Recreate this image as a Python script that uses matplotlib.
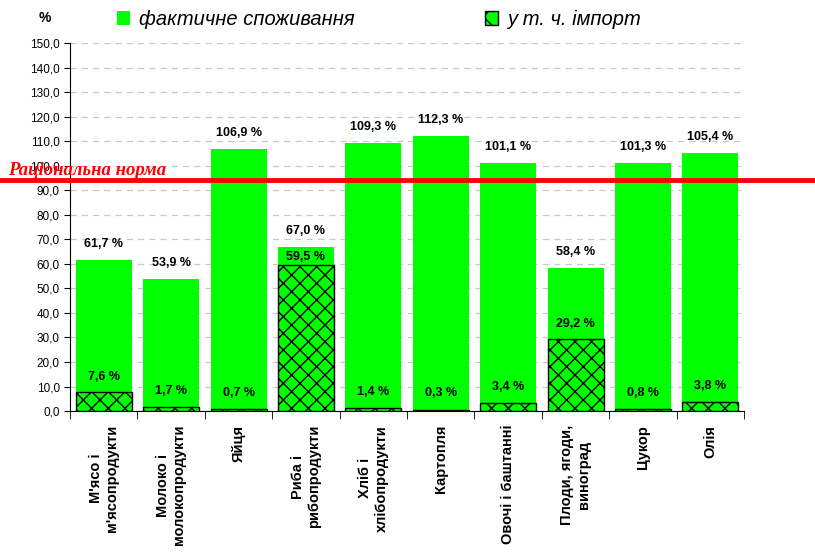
import matplotlib
matplotlib.use('Agg')
import matplotlib.pyplot as plt
import matplotlib.patches as mpatches
import numpy as np

plt.rcParams['font.family'] = ['Liberation Sans', 'DejaVu Sans']
plt.rcParams['hatch.linewidth'] = 1.0

# дані
kategorii = ["М'ясо і\nм'ясопродукти", "Молоко і\nмолокопродукти", "Яйця",
             "Риба і\nрибопродукти", "Хліб і\nхлібопродукти", "Картопля",
             "Овочі і баштанні", "Плоди, ягоди,\nвиноград", "Цукор", "Олія"]
spozhyvannia = [61.7, 53.9, 106.9, 67.0, 109.3, 112.3, 101.1, 58.4, 101.3, 105.4]
import_chastka = [7.6, 1.7, 0.7, 59.5, 1.4, 0.3, 3.4, 29.2, 0.8, 3.8]
norma = 94.0

def fmt(v):
    return '{:.1f} %'.format(v).replace('.', ',')

fig = plt.figure(figsize=(8.15, 5.6), dpi=100)
ax = fig.add_axes([0.086, 0.266, 0.827, 0.657])

x = np.arange(len(kategorii))
ax.bar(x, spozhyvannia, width=0.83, color='#00FF00', zorder=2)
ax.bar(x, import_chastka, width=0.83, color='#00FF00', edgecolor='black',
       hatch='xx', linewidth=1.0, zorder=3)

for i in range(len(x)):
    ax.text(x[i], spozhyvannia[i] + 4, fmt(spozhyvannia[i]), ha='center',
            va='bottom', fontsize=9, fontweight='bold', zorder=4)
    y_imp = min(max(import_chastka[i], 1.0) + 4, spozhyvannia[i] - 6.5)
    ax.text(x[i], y_imp, fmt(import_chastka[i]), ha='center',
            va='bottom', fontsize=9, fontweight='bold', zorder=4)

ax.set_xlim(-0.5, len(x) - 0.5)
ax.set_ylim(0, 150)
ax.set_yticks(np.arange(0, 151, 10))
ax.set_yticklabels(['{:.1f}'.format(v).replace('.', ',') for v in np.arange(0, 151, 10)],
                   fontsize=8.5)
ax.yaxis.grid(True, linestyle=(0, (5, 4)), color='#C8C8C8', linewidth=0.9, zorder=0)
ax.set_axisbelow(True)

ax.set_xticks(x)
ax.set_xticklabels(kategorii, rotation=90, fontsize=10.5, fontweight='bold',
                   va='top', ha='center', multialignment='center')
ax.set_xticks(np.arange(-0.5, len(x), 1), minor=True)
ax.tick_params(axis='x', which='major', length=0, pad=10)
ax.tick_params(axis='x', which='minor', length=6, direction='out')
ax.tick_params(axis='y', length=4, direction='out')
for s in ['top', 'right']:
    ax.spines[s].set_visible(False)

# лінія раціональної норми на всю ширину
ax.axhline(norma, xmin=-0.2, xmax=1.2, color='red', linewidth=3.5, zorder=5, clip_on=False)
fig.text(0.01, 0.688, 'Раціональна норма', color='red', fontsize=13.5,
         fontweight='bold', fontstyle='italic', family='Liberation Serif', zorder=6)

fig.text(0.055, 0.968, '%', fontsize=10, fontweight='bold', ha='center', va='center')

h1 = mpatches.Patch(facecolor='#00FF00', label='фактичне споживання')
h2 = mpatches.Patch(facecolor='#00FF00', edgecolor='black', hatch='x', label='у т. ч. імпорт')
fig.legend(handles=[h1, h2], loc='center left', bbox_to_anchor=(0.1436, 0.965), ncol=2,
           frameon=False, prop={'size': 14.5, 'style': 'italic'}, handlelength=0.65,
           handleheight=0.65, handletextpad=0.45, columnspacing=6.45, borderpad=0,
           borderaxespad=0)

plt.savefig('out.png', dpi=100)
plt.close()
